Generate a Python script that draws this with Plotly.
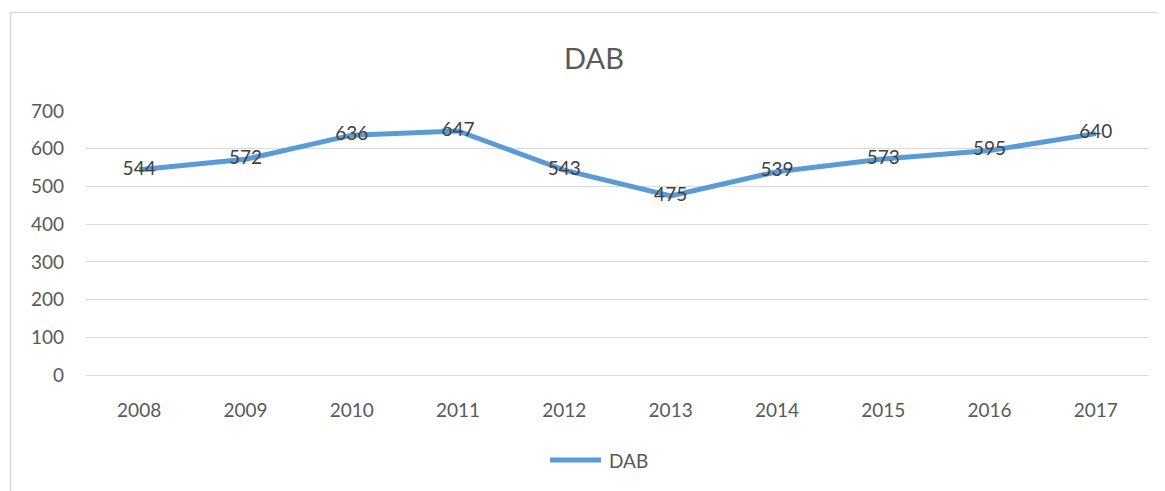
import plotly.graph_objects as go

years = ["2008", "2009", "2010", "2011", "2012", "2013", "2014", "2015", "2016", "2017"]
dab = [544, 572, 636, 647, 543, 475, 539, 573, 595, 640]
y_ticks = [0, 100, 200, 300, 400, 500, 600, 700]

OFF = 8  # default page body margin
W, H = 1165 - OFF, 491 - OFF
L = 86 - OFF
T = 111 - OFF
R = W - (1149 - OFF)
B = H - (375 - OFF)
pw, ph = W - L - R, H - T - B

def px_x(p):  # screen pixel -> paper x
    return (p - OFF - L) / pw

def px_y(p):  # screen pixel -> paper y
    return (H - B - (p - OFF)) / ph

FONT = "Lato"
LINE_COLOR = "#5B9BD5"
fig = go.Figure()
fig.add_trace(go.Scatter(
    x=years, y=dab, mode="lines+text", name="DAB",
    text=[str(v) for v in dab], textposition="middle center",
    textfont=dict(family=FONT, size=19, color="#404040"),
    line=dict(color=LINE_COLOR, width=5),
    showlegend=False,
))

fig.update_layout(
    width=W, height=H,
    margin=dict(l=L, r=R, t=T, b=B),
    paper_bgcolor="white", plot_bgcolor="white",
    font=dict(family=FONT, color="#595959"),
    title=dict(text="DAB", x=(594 - OFF) / W, xref="container", xanchor="center",
               y=1 - (59 - OFF) / H, yref="container", yanchor="middle",
               font=dict(family=FONT, size=29, color="#595959")),
    showlegend=False,
    xaxis=dict(type="category", range=[-0.5, 9.5], showgrid=False, showline=False,
               ticks="", tickfont=dict(family=FONT, size=19, color="#595959"),
               ticklabelstandoff=22, fixedrange=True),
    yaxis=dict(range=[0, 700], tickvals=y_ticks, showgrid=True, gridcolor="#D9D9D9",
               gridwidth=1, zeroline=True, zerolinecolor="#D9D9D9", zerolinewidth=1,
               showline=False, ticks="", tickfont=dict(family=FONT, size=19, color="#595959"),
               ticklabelstandoff=21, fixedrange=True),
    shapes=[
        dict(type="rect", xref="paper", yref="paper",
             x0=px_x(10.5), x1=px_x(1180), y0=px_y(505), y1=px_y(12.5),
             line=dict(color="#D9D9D9", width=1.5), layer="below"),
        dict(type="line", xref="paper", yref="paper",
             x0=px_x(550), x1=px_x(601), y0=px_y(460), y1=px_y(460),
             line=dict(color=LINE_COLOR, width=5)),
    ],
    annotations=[
        dict(text="DAB", xref="paper", yref="paper", x=px_x(607), y=px_y(460),
             xanchor="left", yanchor="middle", showarrow=False,
             font=dict(family=FONT, size=19, color="#595959")),
    ],
)

fig.write_html("out.html")
